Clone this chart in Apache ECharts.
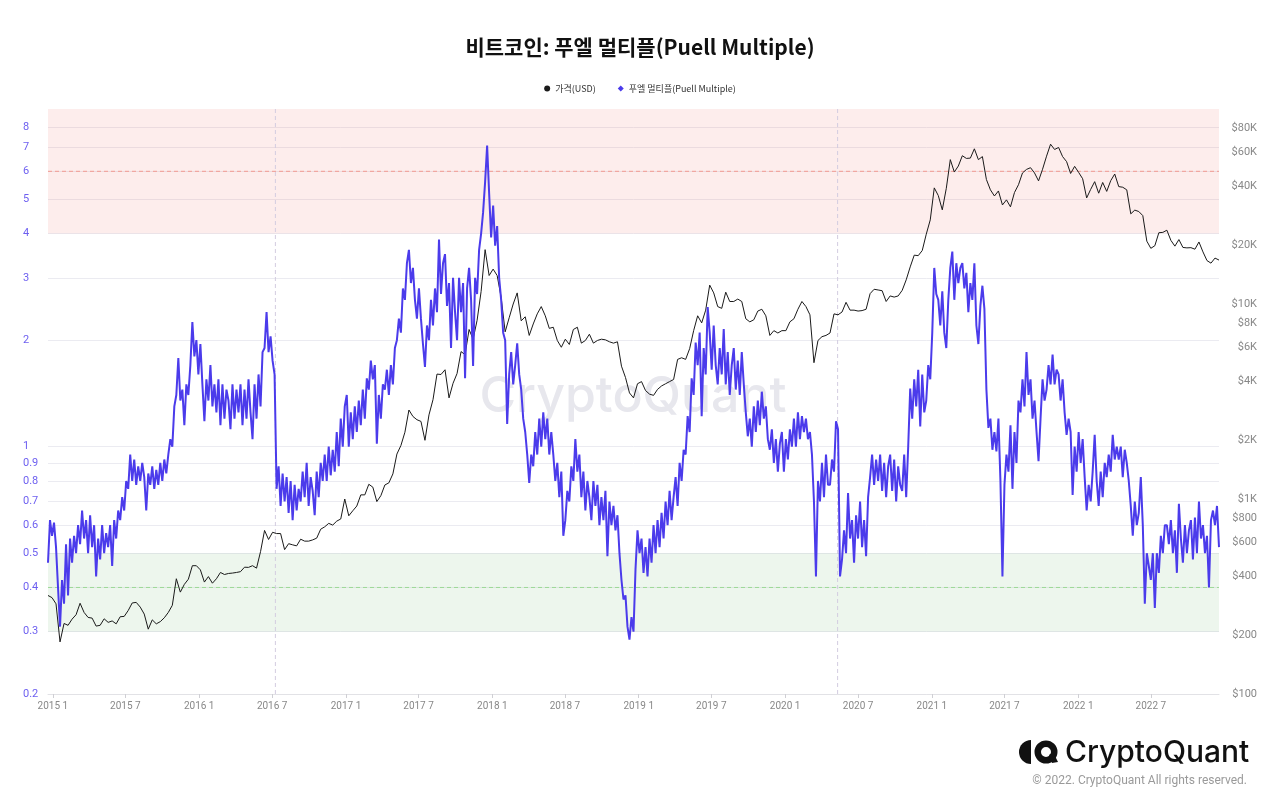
<!DOCTYPE html>
<html>
<head>
<meta charset="utf-8">
<title>비트코인: 푸엘 멀티플(Puell Multiple)</title>
<script src="https://cdn.jsdelivr.net/npm/echarts@6.0.0/dist/echarts.min.js"></script>
<style>
  html, body { margin: 0; padding: 0; background: #fff; }
  #container { width: 1280px; height: 806px; }
</style>
</head>
<body>
<div id="container"></div>
<script>
const DAY = 86400000;
const startDate = Date.UTC(2014, 11, 20);
const puellStepDays = 5;   // one puell value every 5 days
const priceStepDays = 10;  // one price value every 10 days

// Puell Multiple, 6 values per 30-day row starting 2014-12-20
const puell = [
  0.47, 0.62, 0.56, 0.61, 0.52, 0.40,
  0.31, 0.42, 0.36, 0.53, 0.38, 0.55,
  0.47, 0.56, 0.5, 0.6, 0.53, 0.66,
  0.55, 0.62, 0.5, 0.64, 0.52, 0.6,
  0.43, 0.55, 0.48, 0.6, 0.5, 0.57,
  0.52, 0.6, 0.46, 0.62, 0.55, 0.66,
  0.62, 0.72, 0.66, 0.8, 0.76, 0.95,
  0.8, 0.92, 0.78, 0.88, 0.8, 0.9,
  0.82, 0.66, 0.84, 0.78, 0.88, 0.76,
  0.86, 0.78, 0.9, 0.8, 0.92, 0.84,
  0.95, 1.05, 1.0, 1.3, 1.4, 1.78,
  1.35, 1.45, 1.15, 1.5, 1.4, 1.7,
  2.25, 1.8, 2.0, 1.6, 1.95, 1.5,
  1.18, 1.55, 1.35, 1.7, 1.3, 1.5,
  1.25, 1.55, 1.15, 1.5, 1.2, 1.45,
  1.35, 1.12, 1.5, 1.2, 1.45, 1.25,
  1.5, 1.15, 1.45, 1.2, 1.55, 1.25,
  1.05, 1.5, 1.2, 1.6, 1.3, 1.85,
  1.9, 2.4, 1.85, 2.05, 1.75, 1.6,
  0.76, 0.88, 0.68, 0.84, 0.7, 0.82,
  0.65, 0.8, 0.62, 0.78, 0.66, 0.76,
  0.7, 0.85, 0.72, 0.9, 0.68, 0.82,
  0.75, 0.64, 0.85, 0.72, 0.9, 0.8,
  0.95, 0.8, 1.0, 0.83, 0.98, 0.85,
  1.1, 0.88, 1.2, 1.0, 1.3, 1.4,
  1.0, 1.25, 1.05, 1.3, 1.1, 1.35,
  1.15, 1.45, 1.2, 1.56, 1.45, 1.75,
  1.55, 1.7, 1.02, 1.4, 1.2, 1.5,
  1.45, 1.65, 1.4, 1.7, 1.5, 1.9,
  2.0, 2.3, 2.1, 2.8, 2.6, 3.3,
  3.6, 2.9, 3.2, 2.6, 2.3, 2.8,
  2.3, 1.95, 1.68, 2.2, 2.0, 2.6,
  2.2, 2.8, 2.4, 3.85, 2.7, 3.3,
  3.5, 2.5, 2.9, 1.9, 3.0, 2.4,
  2.0, 3.0, 2.4, 2.9, 1.56, 2.8,
  3.2, 2.6, 1.69, 3.0, 2.7, 3.6,
  4.0, 4.6, 5.6, 7.1, 5.2, 3.9,
  4.8, 3.7, 4.2, 3.0, 2.6, 2.1,
  2.0, 1.16, 1.6, 1.85, 1.5, 1.7,
  1.96, 1.6, 1.45, 1.2, 1.1, 0.95,
  0.79, 0.95, 0.88, 1.1, 0.95, 1.2,
  1.0, 1.25, 1.05, 1.2, 0.95, 1.1,
  0.95, 0.8, 0.9, 0.72, 0.85, 0.56,
  0.62, 0.75, 0.7, 0.88, 0.8, 1.05,
  0.85, 0.95, 0.72, 0.85, 0.66, 0.8,
  0.72, 0.62, 0.8, 0.68, 0.78, 0.6,
  0.72, 0.62, 0.75, 0.49, 0.7, 0.6,
  0.68, 0.58, 0.64, 0.5, 0.42, 0.37,
  0.38, 0.31, 0.285, 0.33, 0.3, 0.45,
  0.58, 0.5, 0.55, 0.44, 0.52, 0.43,
  0.55, 0.47, 0.6, 0.5, 0.62, 0.52,
  0.65, 0.55, 0.7, 0.6, 0.75, 0.62,
  0.72, 0.82, 0.68, 0.9, 0.8, 0.98,
  0.95, 1.22, 1.1, 1.56, 1.4, 1.97,
  1.7, 2.1, 1.22, 1.9, 1.6, 2.48,
  2.1, 1.65, 2.2, 1.7, 1.5, 1.9,
  1.6, 2.15, 1.5, 1.85, 1.4, 1.7,
  1.9, 1.45, 1.75, 1.4, 1.85, 1.5,
  1.25, 1.07, 1.2, 1.0, 1.3, 1.1,
  1.35, 1.15, 1.43, 1.2, 1.3, 1.05,
  0.98, 1.12, 0.9, 1.05, 0.85, 1.02,
  1.1, 0.85, 1.05, 0.92, 1.12, 1.0,
  1.2, 1.0, 1.25, 1.05, 1.22, 1.1,
  1.2, 1.05, 1.1, 0.95, 0.7, 0.43,
  0.8, 0.7, 0.9, 0.72, 0.95, 0.78,
  0.78, 0.92, 0.85, 1.18, 1.12, 0.43,
  0.48, 0.58, 0.5, 0.74, 0.55, 0.62,
  0.47, 0.64, 0.55, 0.7, 0.52, 0.62,
  0.49, 0.72, 0.82, 0.95, 0.78, 0.92,
  0.8, 0.95, 0.75, 0.9, 0.72, 0.88,
  0.95, 0.75, 0.92, 0.7, 0.88, 0.78,
  0.75, 0.95, 0.72, 1.0, 1.46, 1.2,
  1.55, 1.3, 1.65, 1.14, 1.6, 1.25,
  1.35, 1.7, 1.55, 2.1, 3.2, 2.7,
  2.6, 2.2, 2.75, 2.1, 1.9, 2.6,
  3.2, 3.56, 2.6, 3.3, 2.9, 3.2,
  3.3, 2.8, 3.1, 2.4, 2.9, 2.6,
  3.3, 2.2, 1.95, 2.5, 2.85, 2.45,
  1.45, 1.13, 1.2, 0.98, 1.1, 0.97,
  1.2, 0.8, 0.43, 0.78, 0.95, 0.85,
  1.15, 0.76, 1.1, 0.9, 1.35, 1.25,
  1.55, 1.3, 1.85, 1.4, 1.55, 1.2,
  1.35, 1.1, 0.91, 1.2, 1.55, 1.35,
  1.45, 1.7, 1.5, 1.82, 1.5, 1.65,
  1.6, 1.35, 1.55, 1.25, 1.08, 1.2,
  1.1, 0.73, 1.0, 0.85, 1.1, 0.9,
  1.05, 0.82, 0.66, 0.78, 0.7, 0.85,
  1.08, 0.8, 0.68, 0.85, 0.72, 0.9,
  0.82, 0.95, 0.85, 1.08, 0.92, 1.0,
  0.92, 1.0, 0.82, 0.98, 0.9, 0.8,
  0.68, 0.56, 0.7, 0.6, 0.65, 0.82,
  0.6, 0.36, 0.5, 0.46, 0.42, 0.5,
  0.35, 0.5, 0.44, 0.56, 0.5, 0.6,
  0.6, 0.53, 0.62, 0.5, 0.58, 0.44,
  0.69, 0.55, 0.47, 0.6, 0.5, 0.58,
  0.62, 0.48, 0.63, 0.5, 0.7, 0.55,
  0.6, 0.5, 0.56, 0.4, 0.62, 0.66,
  0.6, 0.68, 0.52
];

// BTC price (USD), 3 values per 30-day row starting 2014-12-20
const price = [
  320, 312, 290,
  185, 230, 225,
  242, 255, 292,
  262, 247, 245,
  223, 225, 243,
  233, 237, 229,
  249, 250, 268,
  293, 295, 279,
  257, 215, 240,
  229, 235, 246,
  262, 285, 390,
  333, 365, 388,
  455, 455, 433,
  375, 400, 370,
  390, 420, 410,
  415, 417, 420,
  424, 447, 446,
  455, 442, 537,
  690, 620, 675,
  665, 665, 550,
  590, 582, 575,
  622, 608, 608,
  617, 630, 700,
  720, 750, 735,
  770, 790, 1000,
  820, 870, 920,
  1050, 1050, 1190,
  1150, 970, 1040,
  1180, 1210, 1345,
  1700, 1880, 2200,
  2860, 2650, 2550,
  2500, 2000, 2700,
  3230, 4370, 4350,
  4600, 3300, 3920,
  4400, 5700, 5500,
  7400, 6600, 8250,
  11600, 19000, 14000,
  15100, 14000, 10800,
  7200, 8500, 10000,
  11400, 8200, 8600,
  6900, 7900, 8900,
  9700, 8700, 7500,
  7600, 6500, 6000,
  6600, 6200, 7400,
  7600, 6300, 6500,
  7000, 6300, 6500,
  6600, 6550, 6400,
  6300, 6400, 4800,
  4200, 3500, 3300,
  3900, 4000, 3600,
  3450, 3400, 3650,
  3800, 3900, 4000,
  4100, 5200, 5300,
  5200, 5900, 7300,
  8700, 8000, 9300,
  12500, 11400, 9700,
  9500, 11500, 10300,
  10300, 10600, 10300,
  8400, 8100, 8300,
  9200, 9400, 8700,
  6900, 7300, 7100,
  7300, 7300, 8100,
  8400, 9400, 10300,
  9700, 8800, 5000,
  6500, 6800, 6900,
  7100, 8900, 8800,
  9100, 10200, 9300,
  9300, 9200, 9250,
  9400, 11300, 11900,
  11800, 11700, 10300,
  11000, 10850, 11000,
  11750, 13300, 15500,
  17800, 17700, 18800,
  22800, 27000, 39400,
  36000, 30400, 39200,
  55000, 47500, 51000,
  57600, 55800, 56000,
  62500, 55000, 57000,
  43500, 38500, 35800,
  38000, 32200, 34200,
  31500, 37300, 40900,
  47000, 49000, 50000,
  47000, 42800, 49100,
  57300, 66000, 62000,
  63500, 57000, 53700,
  46700, 50800, 47300,
  43900, 35000, 38700,
  42400, 37000, 42000,
  37800, 42900, 46400,
  40000, 39700, 38500,
  29000, 30300, 29800,
  28400, 21000, 19300,
  19900, 23200, 23300,
  23900, 21200, 19800,
  21400, 19500, 19400,
  19450, 19100, 20800,
  18500, 16700, 16200,
  17200, 16800
];

const puellTicks = [0.2, 0.3, 0.4, 0.5, 0.6, 0.7, 0.8, 0.9, 1, 2, 3, 4, 5, 6, 7, 8];
const priceTicks = [100, 200, 400, 600, 800, 1000, 2000, 4000, 6000, 8000, 10000, 20000, 40000, 60000, 80000];
const tickYears = [2015, 2016, 2017, 2018, 2019, 2020, 2021, 2022];
const halvings = [Date.UTC(2016, 6, 9), Date.UTC(2020, 4, 11)];
const puellRange = [0.2, 9];
const overheatBand = [4, 9];
const undervalueBand = [0.3, 0.5];
const overheatLine = 6;
const undervalueLine = 0.4;

const endDate = startDate + (puell.length - 1) * puellStepDays * DAY;

const xTicks = [];
tickYears.forEach((y) => {
  xTicks.push(Date.UTC(y, 0, 1), Date.UTC(y, 6, 1));
});

const puellData = puell.map((v, i) => [startDate + i * puellStepDays * DAY, v]);
const priceData = price.map((v, i) => [startDate + i * priceStepDays * DAY, v]);

// dashed reference line drawn as a 2-point series (kept out of the legend)
function refLine(name, data, color) {
  return {
    name: name,
    type: "line",
    yAxisIndex: 0,
    data: data,
    silent: true,
    showSymbol: false,
    symbol: "none",
    z: 2,
    color: color,
    lineStyle: { color: color, type: [4, 3], width: 1 },
  };
}

let dom = document.getElementById("container");
let myChart = echarts.init(dom, null, { renderer: "canvas" });

let option = {
  animation: false,
  backgroundColor: "#fff",
  title: {
    text: "비트코인: 푸엘 멀티플(Puell Multiple)",
    left: "center",
    top: 32,
    textStyle: {
      fontFamily: "Noto Sans CJK KR",
      fontSize: 21,
      fontWeight: "bold",
      color: "#111",
    },
  },
  legend: {
    top: 79,
    left: "center",
    itemWidth: 6,
    itemHeight: 6,
    itemGap: 22,
    textStyle: { fontFamily: "Noto Sans CJK KR", fontSize: 9, color: "#333" },
    data: [
      { name: "가격(USD)", icon: "circle" },
      { name: "푸엘 멀티플(Puell Multiple)", icon: "diamond" },
    ],
  },
  grid: { left: 48, right: 61, top: 109, bottom: 112 },
  // numeric time axis (ms) so the 6-month ticks can be placed exactly
  xAxis: {
    type: "value",
    min: startDate,
    max: endDate,
    axisLine: { lineStyle: { color: "#e2e2e6" } },
    axisTick: { show: true, length: 4, lineStyle: { color: "#cfcfd4" }, customValues: xTicks },
    splitLine: { show: false },
    axisLabel: {
      customValues: xTicks,
      margin: 7,
      fontSize: 10,
      color: "#888",
      fontFamily: "Roboto",
      formatter: (v) => {
        const d = new Date(v);
        return d.getUTCFullYear() + " " + (d.getUTCMonth() + 1);
      },
    },
  },
  yAxis: [
    {
      type: "log",
      logBase: 10,
      min: puellRange[0],
      max: puellRange[1],
      position: "left",
      axisLine: { show: false },
      axisTick: { show: false, customValues: puellTicks },
      splitLine: { show: true, lineStyle: { color: "#ebebf1", width: 1 } },
      axisLabel: {
        customValues: puellTicks,
        align: "left",
        margin: 25,
        fontSize: 11,
        color: "#6d5ff0",
        fontFamily: "Roboto",
        formatter: (v) => String(Math.round(v * 100) / 100),
      },
    },
    {
      type: "log",
      logBase: 10,
      min: 100,
      max: 100000,
      position: "right",
      axisLine: { show: false },
      axisTick: { show: false, customValues: priceTicks },
      splitLine: { show: false },
      axisLabel: {
        customValues: priceTicks,
        align: "right",
        margin: 38,
        fontSize: 11,
        color: "#888",
        fontFamily: "Roboto",
        formatter: (v) => (v >= 1000 ? "$" + Math.round(v / 1000) + "K" : "$" + Math.round(v)),
      },
    },
  ],
  graphic: [
    {
      type: "text",
      z: 0,
      silent: true,
      style: {
        text: "CryptoQuant",
        x: 633,
        y: 397,
        textAlign: "center",
        textVerticalAlign: "middle",
        font: "500 50px Inter",
        fill: "#e7e7ed",
      },
    },
    {
      type: "sector",
      silent: true,
      shape: { cx: 1031, cy: 752, r: 12, r0: 0, startAngle: Math.PI / 2, endAngle: (Math.PI * 3) / 2 },
      style: { fill: "#111" },
    },
    {
      type: "ring",
      silent: true,
      shape: { cx: 1046, cy: 752, r: 11.5, r0: 5 },
      style: { fill: "#111" },
    },
    {
      type: "polygon",
      silent: true,
      shape: { points: [[1049, 755], [1053, 752], [1058, 762], [1052, 763]] },
      style: { fill: "#111" },
    },
    {
      type: "text",
      silent: true,
      style: {
        text: "CryptoQuant",
        x: 1065,
        y: 753,
        textVerticalAlign: "middle",
        font: "500 30px Inter",
        fill: "#111",
      },
    },
    {
      type: "text",
      silent: true,
      style: {
        text: "© 2022. CryptoQuant All rights reserved.",
        x: 1247,
        y: 781,
        textAlign: "right",
        textVerticalAlign: "middle",
        font: "12px Roboto",
        fill: "#9a9a9a",
      },
    },
  ],
  series: [
    refLine("overheat", [[startDate, overheatLine], [endDate, overheatLine]], "#f29a91"),
    refLine("undervalue", [[startDate, undervalueLine], [endDate, undervalueLine]], "#9ed897"),
    refLine("halving2016", [[halvings[0], puellRange[0]], [halvings[0], puellRange[1]]], "#d3cce0"),
    refLine("halving2020", [[halvings[1], puellRange[0]], [halvings[1], puellRange[1]]], "#d3cce0"),
    {
      name: "가격(USD)",
      type: "line",
      yAxisIndex: 1,
      data: priceData,
      showSymbol: false,
      symbol: "circle",
      color: "#1a1a1a",
      lineStyle: { color: "#1a1a1a", width: 1 },
      z: 3,
    },
    {
      name: "푸엘 멀티플(Puell Multiple)",
      type: "line",
      yAxisIndex: 0,
      data: puellData,
      showSymbol: false,
      symbol: "diamond",
      color: "#4b3beb",
      lineStyle: { color: "#4b3beb", width: 2 },
      z: 4,
      markArea: {
        silent: true,
        data: [
          [{ yAxis: overheatBand[0], itemStyle: { color: "rgba(236, 110, 95, 0.12)" } }, { yAxis: overheatBand[1] }],
          [{ yAxis: undervalueBand[0], itemStyle: { color: "rgba(90, 175, 90, 0.11)" } }, { yAxis: undervalueBand[1] }],
        ],
      },
    },
  ],
};

if (option && typeof option === "object") {
  myChart.setOption(option);
}

window.addEventListener("resize", myChart.resize);
</script>
</body>
</html>
